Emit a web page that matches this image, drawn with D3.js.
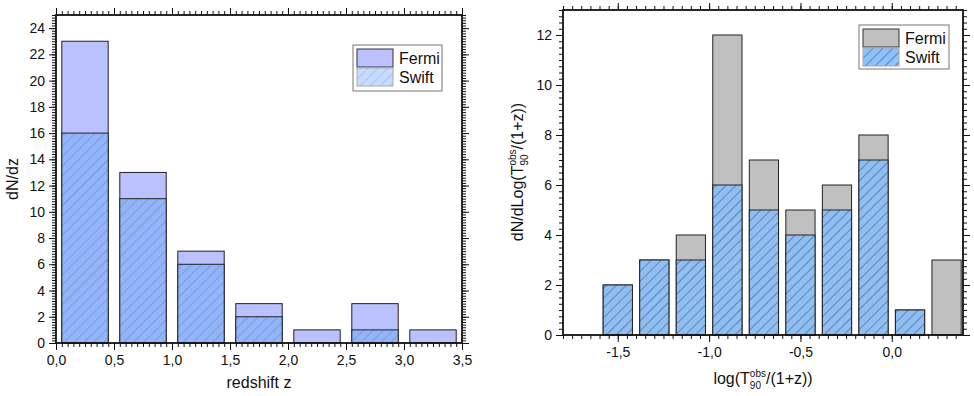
<!DOCTYPE html>
<html><head><meta charset="utf-8">
<script src="https://cdn.jsdelivr.net/npm/d3@7"></script>
<style>body{margin:0;background:#fff}svg{display:block}text{font-family:"Liberation Sans",Arial,sans-serif;fill:#111}</style>
</head><body>
<svg id="c" width="974" height="396"></svg>
<script>
// ---- data ----
const zCenters = [0.25, 0.75, 1.25, 1.75, 2.25, 2.75, 3.25];
const zFermi   = [23, 13, 7, 3, 1, 3, 1];
const zSwift   = [16, 11, 6, 2, 0, 1, 0];
const zTicks   = [0, 0.5, 1, 1.5, 2, 2.5, 3, 3.5];
const zYTicks  = [0, 2, 4, 6, 8, 10, 12, 14, 16, 18, 20, 22, 24];

const tCenters = [-1.5, -1.3, -1.1, -0.9, -0.7, -0.5, -0.3, -0.1, 0.1, 0.3];
const tFermi   = [2, 3, 4, 12, 7, 5, 6, 8, 1, 3];
const tSwift   = [2, 3, 3, 6, 5, 4, 5, 7, 1, 0];
const tTicks   = [-1.5, -1.0, -0.5, 0.0];
const tYTicks  = [0, 2, 4, 6, 8, 10, 12];

const legendLabels = ["Fermi", "Swift"];

const svg = d3.select("#c");
const defs = svg.append("defs");
function hatch(id, bg, line, w) {
  const p = defs.append("pattern").attr("id", id).attr("patternUnits", "userSpaceOnUse")
    .attr("width", 7).attr("height", 7).attr("patternTransform", "rotate(45)");
  p.append("rect").attr("width", 7).attr("height", 7).attr("fill", bg);
  p.append("line").attr("x1", 0).attr("y1", 0).attr("x2", 0).attr("y2", 7)
    .attr("stroke", line).attr("stroke-width", w);
}
hatch("hL", "#91b4fa", "#62789f", 0.8);
hatch("hLleg", "#c4dcff", "#90a6c8", 0.8);
hatch("hR", "#8fbef3", "#2b3b5c", 0.9);
hatch("hRleg", "#8ec2fb", "#2b3b5c", 0.9);

const fmt = d => d3.format(".1f")(d).replace(".", ",").replace("−", "-");

function panel(o) {
  const g = svg.append("g");
  const x = d3.scaleLinear().domain(o.xd).range([o.x0, o.x1]);
  const y = d3.scaleLinear().domain(o.yd).range([o.y0, o.y1]);
  const bw = o.bw;
  g.selectAll(".f").data(o.centers).join("rect")
    .attr("x", (d) => x(d - bw / 2)).attr("width", (d) => x(d + bw / 2) - x(d - bw / 2))
    .attr("y", (d, i) => y(o.fermi[i])).attr("height", (d, i) => y(0) - y(o.fermi[i]))
    .attr("fill", o.fermiColor).attr("stroke", "#222").attr("stroke-width", 1)
    .style("display", (d, i) => o.fermi[i] > 0 ? null : "none");
  g.selectAll(".s").data(o.centers).join("rect")
    .attr("x", (d) => x(d - bw / 2)).attr("width", (d) => x(d + bw / 2) - x(d - bw / 2))
    .attr("y", (d, i) => y(o.swift[i])).attr("height", (d, i) => y(0) - y(o.swift[i]))
    .attr("fill", "url(#" + o.hatch + ")").attr("stroke", "#222").attr("stroke-width", 1)
    .style("display", (d, i) => o.swift[i] > 0 ? null : "none");

  const bottom = d3.axisBottom(x).tickValues(o.xt).tickFormat(fmt).tickSize(7).tickPadding(5);
  const bottomMinor = d3.axisBottom(x).tickValues(d3.range(o.xd[0], o.xd[1] + 1e-9, 0.05)).tickFormat("").tickSize(4);
  const top = d3.axisTop(x).tickValues(o.xt).tickFormat("").tickSize(7);
  const topMinor = d3.axisTop(x).tickValues(d3.range(o.xd[0], o.xd[1] + 1e-9, 0.05)).tickFormat("").tickSize(4);
  const left = d3.axisLeft(y).tickValues(o.yt).tickFormat(d3.format("d")).tickSize(7).tickPadding(4);
  const leftMinor = d3.axisLeft(y).tickValues(d3.range(0, o.yd[1] + 1e-9, o.ym)).tickFormat("").tickSize(4);
  const right = d3.axisRight(y).tickValues(o.yt).tickFormat("").tickSize(7);
  const rightMinor = d3.axisRight(y).tickValues(d3.range(0, o.yd[1] + 1e-9, o.ym)).tickFormat("").tickSize(4);
  const put = (ax, tr) => {
    const a = g.append("g").attr("transform", tr).call(ax);
    a.select(".domain").remove();
    a.selectAll("line").attr("stroke", "#111").attr("stroke-width", 1);
    a.selectAll("text").style("font-size", "14px").attr("fill", "#111");
    return a;
  };
  put(bottomMinor, `translate(0,${o.y0})`);
  put(bottom, `translate(0,${o.y0})`);
  put(topMinor, `translate(0,${o.y1})`);
  put(top, `translate(0,${o.y1})`);
  put(leftMinor, `translate(${o.x0},0)`);
  put(left, `translate(${o.x0},0)`);
  put(rightMinor, `translate(${o.x1},0)`);
  put(right, `translate(${o.x1},0)`);
  g.append("rect").attr("x", o.x0).attr("y", o.y1).attr("width", o.x1 - o.x0).attr("height", o.y0 - o.y1)
    .attr("fill", "none").attr("stroke", "#111").attr("stroke-width", 1.8);

  const L = o.leg;
  g.append("rect").attr("x", L.x).attr("y", L.y).attr("width", L.w).attr("height", L.h)
    .attr("fill", "#fff").attr("stroke", "#777").attr("stroke-width", 1);
  const sw = [o.fermiColor, "url(#" + o.legHatch + ")"];
  legendLabels.forEach((lab, i) => {
    g.append("rect").attr("x", L.x + 4).attr("y", L.y + 4 + i * 19).attr("width", 36).attr("height", 18)
      .attr("fill", sw[i]).attr("stroke", i === 0 ? "#333" : "#aaa").attr("stroke-width", 1);
    g.append("text").attr("x", L.x + 46).attr("y", L.y + 19 + i * 19).text(lab).style("font-size", "16px");
  });
  return {x, y, g};
}

panel({
  xd: [0, 3.5], yd: [0, 25], x0: 56, x1: 462, y0: 343, y1: 15,
  centers: zCenters, fermi: zFermi, swift: zSwift, bw: 0.4,
  xt: zTicks, yt: zYTicks, ym: 0.2,
  fermiColor: "#bbc1fe", hatch: "hL", legHatch: "hLleg",
  leg: {x: 353, y: 45, w: 89, h: 46}
});
svg.append("text").attr("transform", "translate(18,179) rotate(-90)").attr("text-anchor", "middle")
  .style("font-size", "16px").text("dN/dz");
svg.append("text").attr("x", 259).attr("y", 388).attr("text-anchor", "middle")
  .style("font-size", "16px").text("redshift z");

panel({
  xd: [-1.8, 0.39], yd: [0, 13], x0: 563, x1: 963, y0: 335, y1: 10,
  centers: tCenters, fermi: tFermi, swift: tSwift, bw: 0.16,
  xt: tTicks, yt: tYTicks, ym: 0.25,
  fermiColor: "#c0c0c0", hatch: "hR", legHatch: "hRleg",
  leg: {x: 859, y: 25, w: 90, h: 44}
});

function tLabel(sel, pre, post) {
  sel.append("tspan").text(pre);
  const sup = sel.append("tspan").attr("dy", -7).style("font-size", "10px").text("obs");
  const supW = sup.node().getComputedTextLength();
  const sub = sel.append("tspan").attr("dx", -supW).attr("dy", 12).style("font-size", "10px").text("90");
  const subW = sub.node().getComputedTextLength();
  sel.append("tspan").attr("dx", Math.max(0, supW - subW)).attr("dy", -5).text(post);
}
const yl = svg.append("text").attr("transform", "translate(523,172) rotate(-90)").attr("text-anchor", "middle")
  .style("font-size", "16px");
tLabel(yl, "dN/dLog(T", "/(1+z))");
const xl = svg.append("text").attr("x", 763).attr("y", 384).attr("text-anchor", "middle").style("font-size", "16px");
tLabel(xl, "log(T", "/(1+z))");
</script>
</body></html>
